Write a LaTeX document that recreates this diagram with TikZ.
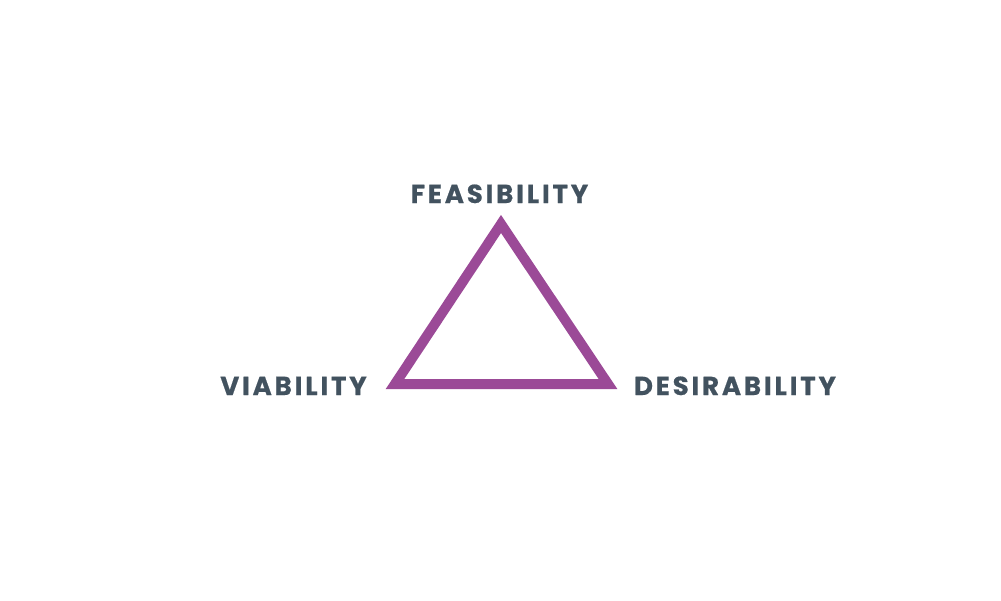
\documentclass[tikz,border=0pt]{standalone}
\usepackage{fontspec}
\setmainfont{Poppins}[LetterSpace=11,BoldFeatures={FakeBold=0.6}]
\definecolor{txt}{HTML}{42525F}
\definecolor{tri}{HTML}{9B4A97}
\begin{document}
\begin{tikzpicture}[x=1pt,y=-1pt]
\tikzset{lbl/.style={text=txt,font=\fontsize{26}{30}\selectfont\bfseries,anchor=base,inner sep=0pt}}
\useasboundingbox (0,0) rectangle (1001,600);
\coordinate (a) at (501,224);
\coordinate (b) at (395,384);
\coordinate (c) at (608,384);
\draw[tri,line width=10pt,line join=miter] (a) -- (b) -- (c) -- cycle;
\node[lbl] (f) at (499.5,203) {FEASIBILITY};
\node[lbl] (v) at (293.5,395) {VIABILITY};
\node[lbl] (d) at (735,395) {DESIRABILITY};
\end{tikzpicture}
\end{document}
